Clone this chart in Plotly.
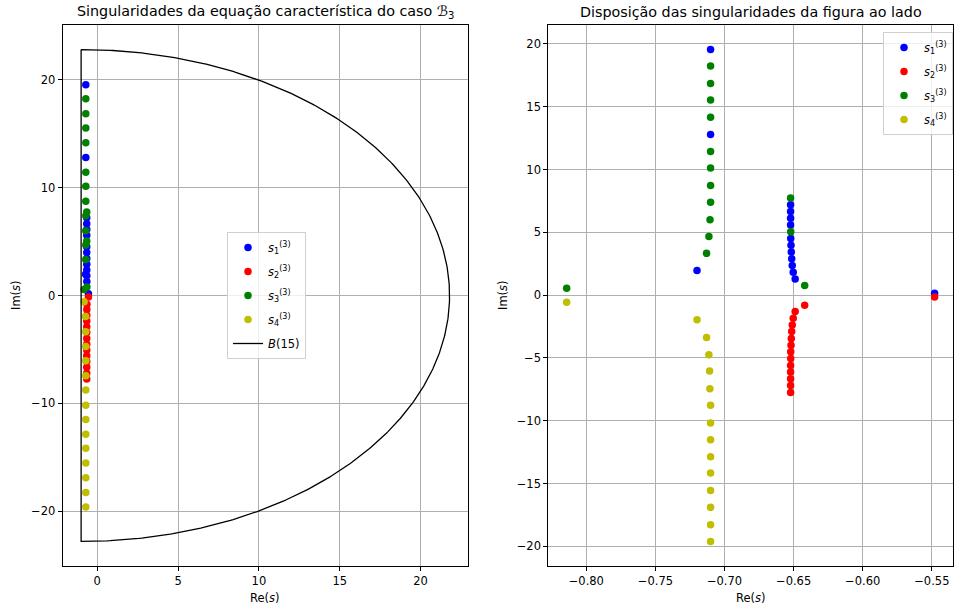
import numpy as np
import plotly.graph_objects as go

# ---------------- data ----------------
s1_re = [-0.7101, -0.7101, -0.7199,
         -0.6489, -0.6503, -0.6510, -0.6514, -0.6517, -0.6519, -0.6521,
         -0.6522, -0.6522, -0.6522, -0.6522, -0.5480]
s1_im = [19.55, 12.80, 1.97,
         1.29, 1.83, 2.37, 2.90, 3.44, 3.98, 4.51,
         5.59, 6.12, 6.66, 7.20, 0.16]

s2_re = [-0.5480, -0.6420, -0.6489, -0.6503, -0.6510, -0.6514, -0.6517, -0.6519,
         -0.6521, -0.6521, -0.6522, -0.6522, -0.6522, -0.6522, -0.6522]
s2_im = [-0.15, -0.80, -1.29, -1.83, -2.37, -2.90, -3.44, -3.98,
         -4.51, -5.05, -5.59, -6.12, -6.66, -7.20, -7.74]

s3_re = [-0.8142, -0.6420, -0.6521, -0.6522,
         -0.7101, -0.7101, -0.7101, -0.7101, -0.7101, -0.7101, -0.7101,
         -0.7101, -0.7105, -0.7113, -0.7130]
s3_im = [0.55, 0.78, 5.05, 7.74,
         18.25, 16.86, 15.54, 14.16, 11.43, 10.13, 8.74,
         7.39, 6.01, 4.68, 3.33]

s4_re = [-0.8142, -0.7199, -0.7130, -0.7113, -0.7108, -0.7106, -0.7101, -0.7101,
         -0.7101, -0.7101, -0.7101, -0.7101, -0.7101, -0.7101, -0.7101]
s4_im = [-0.57, -1.95, -3.36, -4.74, -6.04, -7.44, -8.77, -10.18,
         -11.50, -12.86, -14.16, -15.54, -16.89, -18.27, -19.60]

series_names = ["<i>s</i><sub>1</sub><sup>(3)</sup>", "<i>s</i><sub>2</sub><sup>(3)</sup>",
                "<i>s</i><sub>3</sub><sup>(3)</sup>", "<i>s</i><sub>4</sub><sup>(3)</sup>"]
series_colors = ["#0000ff", "#ff0000", "#008000", "#bfbf00"]

# contour B(15): vertical line Re = c and half circle of radius R
contour_c = -1.0
contour_R = 22.8

left_xticks = [0, 5, 10, 15, 20]
left_yticks = [-20, -10, 0, 10, 20]
right_xticks = [-0.80, -0.75, -0.70, -0.65, -0.60, -0.55]
right_yticks = [-20, -15, -10, -5, 0, 5, 10, 15, 20]

# ---------------- figure ----------------
W, H = 956, 610
def fx(p): return p / W
def fy(p): return 1 - p / H

FONT = "DejaVu Sans"
data = [(s1_re, s1_im), (s2_re, s2_im), (s3_re, s3_im), (s4_re, s4_im)]

fig = go.Figure()
for i, ((re, im), name, col) in enumerate(zip(data, series_names, series_colors)):
    fig.add_trace(go.Scatter(x=re, y=im, mode="markers", name=name,
                             marker=dict(color=col, size=7.5, line=dict(width=0)),
                             legendgroup=f"L{i}",
                             xaxis="x", yaxis="y", legend="legend"))

theta = np.linspace(np.pi / 2, -np.pi / 2, 400)
bx = list(contour_c + contour_R * np.cos(theta)) + [contour_c]
by = list(contour_R * np.sin(theta)) + [contour_R]
fig.add_trace(go.Scatter(x=bx, y=by, mode="lines", name="<i>B</i>(15)",
                         line=dict(color="black", width=1.3), legendgroup="L4",
                         xaxis="x", yaxis="y", legend="legend"))

for i, ((re, im), name, col) in enumerate(zip(data, series_names, series_colors)):
    fig.add_trace(go.Scatter(x=re, y=im, mode="markers", name=name,
                             marker=dict(color=col, size=7.5, line=dict(width=0)),
                             legendgroup=f"R{i}",
                             xaxis="x2", yaxis="y2", legend="legend2"))

def fmt(v, d):
    s = f"{abs(v):.{d}f}"
    return ("\u2212" + s) if v < 0 else s

axis_common = dict(showline=True, mirror=True, linecolor="black", linewidth=1,
                   ticks="outside", ticklen=4, tickcolor="black", tickwidth=1,
                   showgrid=True, gridcolor="#b0b0b0", gridwidth=1, zeroline=False,
                   tickfont=dict(family=FONT, size=11.5, color="black"))

ydom = [fy(566), fy(25)]
legend_common = dict(xanchor="left", yanchor="top", bgcolor="rgba(255,255,255,0.8)",
                     bordercolor="#d0d0d0", borderwidth=1, tracegroupgap=5,
                     traceorder="grouped", font=dict(family=FONT, size=11.5))
fig.update_layout(
    width=W, height=H, autosize=False,
    margin=dict(l=0, r=0, t=0, b=0),
    paper_bgcolor="white", plot_bgcolor="white",
    font=dict(family=FONT, size=11.5, color="black"),
    xaxis=dict(domain=[fx(62.7), fx(468)], range=[-2.14, 22.94], anchor="y",
               tickvals=left_xticks, ticktext=[fmt(v, 0) for v in left_xticks], **axis_common),
    yaxis=dict(domain=ydom, range=[-25.08, 25.08], anchor="x",
               tickvals=left_yticks, ticktext=[fmt(v, 0) for v in left_yticks], **axis_common),
    xaxis2=dict(domain=[fx(548.3), fx(953)], range=[-0.8275, -0.5347], anchor="y2",
                tickvals=right_xticks, ticktext=[fmt(v, 2) for v in right_xticks], **axis_common),
    yaxis2=dict(domain=ydom, range=[-21.56, 21.51], anchor="x2",
                tickvals=right_yticks, ticktext=[fmt(v, 0) for v in right_yticks], **axis_common),
    legend=dict(x=fx(227), y=fy(232), **legend_common),
    legend2=dict(x=fx(883), y=fy(32), **legend_common),
    showlegend=True,
)

ann = [
    dict(text="Singularidades da equação característica do caso <i>\u212c</i><sub>3</sub>",
         x=fx(265), y=fy(12), font=dict(size=14.3)),
    dict(text="Disposição das singularidades da figura ao lado",
         x=fx(751), y=fy(12), font=dict(size=14.3)),
    dict(text="Re(<i>s</i>)", x=fx(265), y=fy(598), font=dict(size=11.5)),
    dict(text="Re(<i>s</i>)", x=fx(751), y=fy(598), font=dict(size=11.5)),
    dict(text="Im(<i>s</i>)", x=fx(16), y=fy(295), textangle=-90, font=dict(size=11.5)),
    dict(text="Im(<i>s</i>)", x=fx(503), y=fy(295), textangle=-90, font=dict(size=11.5)),
]
for a in ann:
    a.update(xref="paper", yref="paper", showarrow=False, xanchor="center", yanchor="middle")
    a["font"].update(family=FONT, color="black")
fig.update_layout(annotations=ann)

fig.write_html("out.html")
